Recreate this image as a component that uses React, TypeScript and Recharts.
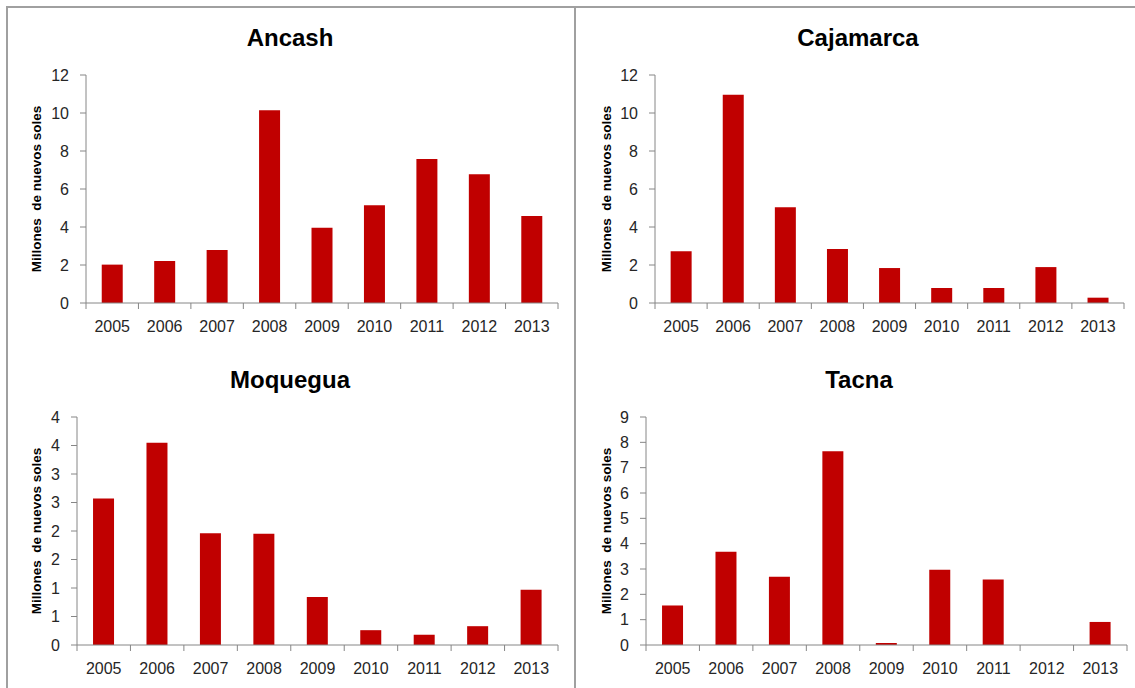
import React from "react";
import { BarChart, Bar, XAxis, YAxis } from "recharts";

const years = ["2005", "2006", "2007", "2008", "2009", "2010", "2011", "2012", "2013"];

const ancashValues = [2.02, 2.21, 2.79, 10.14, 3.96, 5.14, 7.58, 6.77, 4.58];
const cajamarcaValues = [2.72, 10.96, 5.04, 2.84, 1.84, 0.79, 0.79, 1.89, 0.28];
const moqueguaValues = [2.57, 3.55, 1.96, 1.95, 0.84, 0.26, 0.18, 0.33, 0.97];
const tacnaValues = [1.56, 3.68, 2.69, 7.65, 0.08, 2.97, 2.59, 0, 0.91];

const ticksTo12 = [0, 2, 4, 6, 8, 10, 12];
const moqueguaTicks = [0, 0.5, 1, 1.5, 2, 2.5, 3, 3.5, 4];
const tacnaTicks = [0, 1, 2, 3, 4, 5, 6, 7, 8, 9];

const yLabel = "Millones  de nuevos soles";

const BAR_COLOR = "#C00000";
const AXIS_COLOR = "#868686";
const TEXT_COLOR = "#262626";
const FONT = "'Liberation Sans', Arial, sans-serif";

const toRows = (values: number[]) => years.map((year, i) => ({ year, value: values[i] }));

interface PanelProps {
  title: string;
  values: number[];
  ticks: number[];
  left: number;
  top: number;
  width: number;
  height: number;
  axisWidth: number;
  margin: { top: number; right: number; bottom: number; left: number };
  titleX: number;
  titleY: number;
  labelX: number;
  roundTicks?: boolean;
}

const Panel = (p: PanelProps) => {
  const plotWidth = p.width - p.margin.left - p.margin.right - p.axisWidth;
  const band = plotWidth / years.length;
  const plotTop = p.margin.top;
  const plotBottom = p.height - p.margin.bottom - 30;
  const midY = (plotTop + plotBottom) / 2;

  const renderYearTick = (props: any) => {
    const { x, y, payload, index } = props;
    return (
      <g>
        <line x1={x - band / 2} y1={y} x2={x - band / 2} y2={y + 6} stroke={AXIS_COLOR} />
        {index === years.length - 1 && (
          <line x1={x + band / 2} y1={y} x2={x + band / 2} y2={y + 6} stroke={AXIS_COLOR} />
        )}
        <text x={x} y={y + 29} textAnchor="middle" fontSize={16} fontFamily={FONT} fill={TEXT_COLOR}>
          {payload.value}
        </text>
      </g>
    );
  };

  return (
    <div style={{ position: "absolute", left: p.left, top: p.top, width: p.width, height: p.height }}>
      <BarChart
        width={p.width}
        height={p.height}
        data={toRows(p.values)}
        margin={p.margin}
        barCategoryGap="30%"
        style={{ fontFamily: FONT }}
      >
        <XAxis
          dataKey="year"
          height={30}
          interval={0}
          tickLine={false}
          tickSize={0}
          tickMargin={0}
          axisLine={{ stroke: AXIS_COLOR }}
          tick={renderYearTick}
        />
        <YAxis
          type="number"
          width={p.axisWidth}
          domain={[0, p.ticks[p.ticks.length - 1]]}
          ticks={p.ticks}
          interval={0}
          tickSize={6}
          tickMargin={11}
          axisLine={{ stroke: AXIS_COLOR }}
          tickLine={{ stroke: AXIS_COLOR }}
          tick={{ fill: TEXT_COLOR, fontSize: 16, fontFamily: FONT }}
          tickFormatter={(v: number) => (p.roundTicks ? String(Math.round(v)) : String(v))}
        />
        <Bar dataKey="value" fill={BAR_COLOR} isAnimationActive={false} />
      </BarChart>
      <svg
        width={p.width}
        height={p.height}
        style={{ position: "absolute", left: 0, top: 0, pointerEvents: "none" }}
      >
        <text
          x={p.titleX}
          y={p.titleY}
          textAnchor="middle"
          fontSize={24}
          fontWeight="bold"
          fontFamily={FONT}
          fill="#000"
        >
          {p.title}
        </text>
        <text
          x={p.labelX}
          y={midY}
          transform={`rotate(-90, ${p.labelX}, ${midY})`}
          textAnchor="middle"
          dominantBaseline="central"
          fontSize={13.5}
          fontWeight="bold"
          fontFamily={FONT}
          fill="#000"
          style={{ whiteSpace: "pre" }}
        >
          {yLabel}
        </text>
      </svg>
    </div>
  );
};

export default function App() {
  return (
    <div
      style={{
        position: "absolute",
        left: 0,
        top: 0,
        width: 1135,
        height: 688,
        background: "#fff",
        overflow: "hidden",
      }}
    >
      <svg width={1135} height={688} style={{ position: "absolute", left: 0, top: 0 }}>
        <line x1={6} y1={7} x2={1135} y2={7} stroke="#a0a0a0" strokeWidth={2} />
        <line x1={7} y1={6} x2={7} y2={688} stroke="#a0a0a0" strokeWidth={2} />
        <line x1={575} y1={7} x2={575} y2={688} stroke="#a0a0a0" strokeWidth={2} />
      </svg>
      <Panel
        title="Ancash"
        values={ancashValues}
        ticks={ticksTo12}
        left={0}
        top={0}
        width={575}
        height={350}
        axisWidth={86}
        margin={{ top: 75, right: 17, bottom: 17, left: 0 }}
        titleX={290}
        titleY={46}
        labelX={36}
      />
      <Panel
        title="Cajamarca"
        values={cajamarcaValues}
        ticks={ticksTo12}
        left={575}
        top={0}
        width={560}
        height={350}
        axisWidth={80}
        margin={{ top: 75, right: 11, bottom: 17, left: 0 }}
        titleX={283}
        titleY={46}
        labelX={31}
      />
      <Panel
        title="Moquegua"
        values={moqueguaValues}
        ticks={moqueguaTicks}
        left={0}
        top={350}
        width={575}
        height={338}
        axisWidth={77}
        margin={{ top: 67, right: 17, bottom: 13, left: 0 }}
        titleX={290}
        titleY={38}
        labelX={36}
        roundTicks
      />
      <Panel
        title="Tacna"
        values={tacnaValues}
        ticks={tacnaTicks}
        left={575}
        top={350}
        width={560}
        height={338}
        axisWidth={71}
        margin={{ top: 67, right: 8, bottom: 13, left: 0 }}
        titleX={284}
        titleY={38}
        labelX={31}
      />
    </div>
  );
}
